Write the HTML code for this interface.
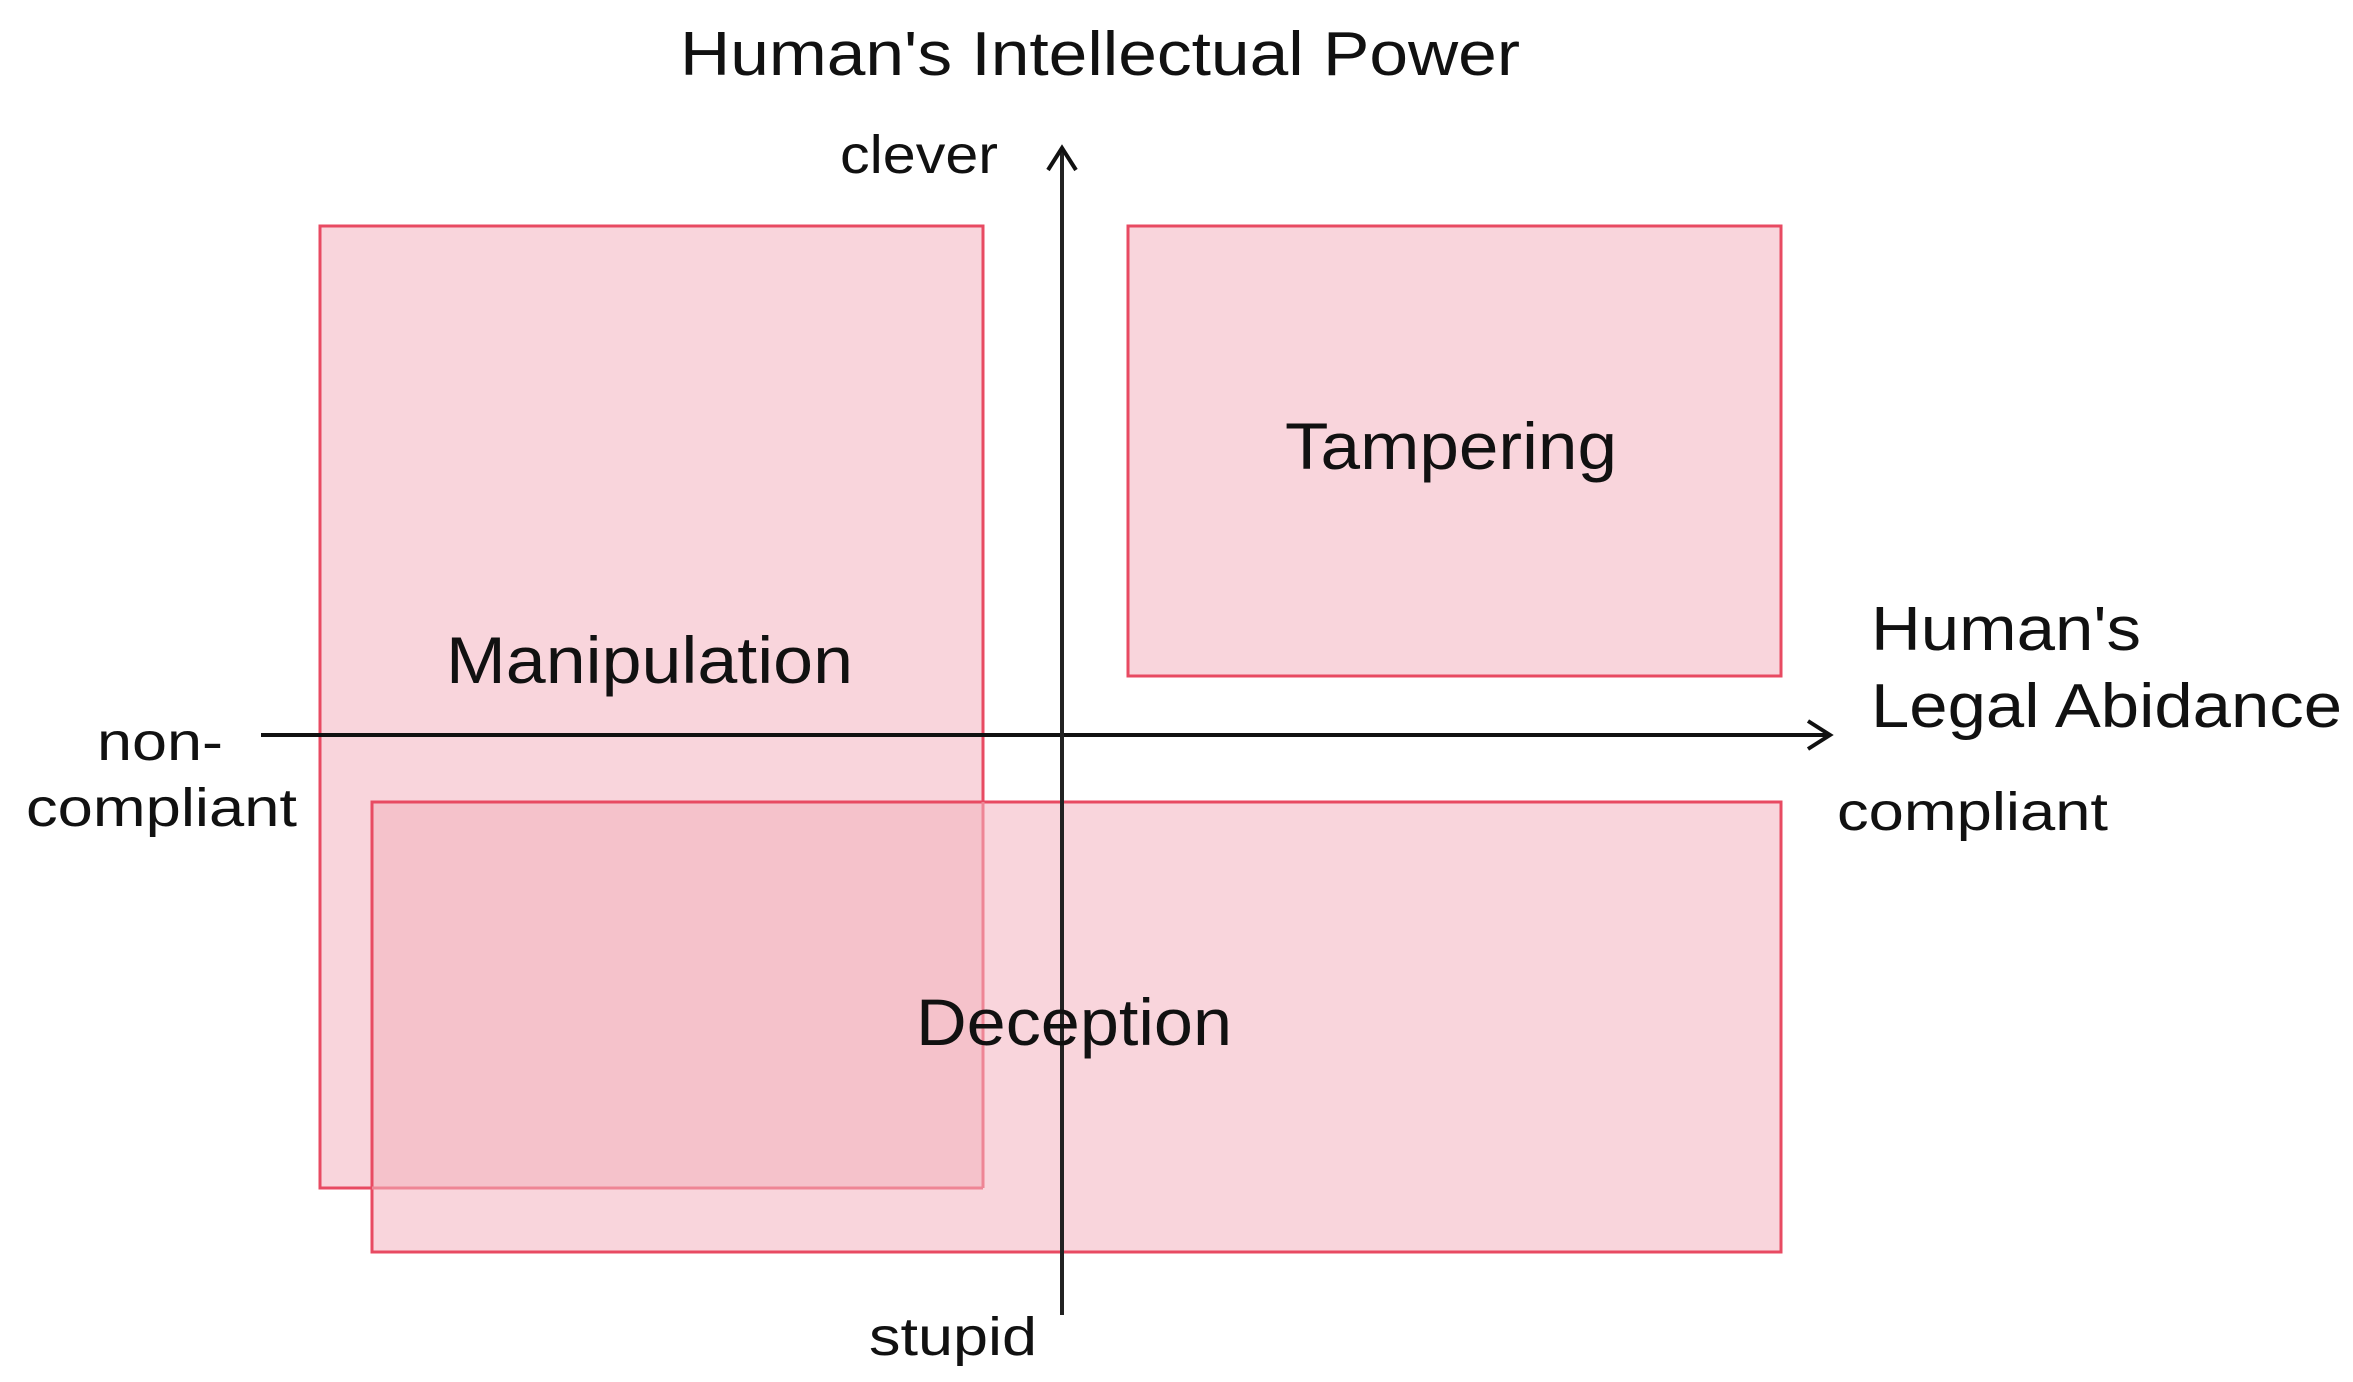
<!DOCTYPE html>
<html><head><meta charset="utf-8"><style>html,body{margin:0;padding:0;background:#fff}svg{display:block}</style></head>
<body>
<svg width="2353" height="1382" viewBox="0 0 2353 1382" xmlns="http://www.w3.org/2000/svg" font-family="Liberation Sans, DejaVu Sans, sans-serif" fill="#111">
<rect x="320" y="226" width="663" height="962" fill="#f9d5dc" stroke="#e84a62" stroke-width="3"/>
<rect x="1128" y="226" width="653" height="450" fill="#f9d5dc" stroke="#e84a62" stroke-width="3"/>
<rect x="372" y="802" width="1409" height="450" fill="#f9d5dc" stroke="#e84a62" stroke-width="3"/>
<rect x="373.5" y="803.5" width="608" height="383" fill="#f5c2cb"/>
<line x1="983" y1="802" x2="983" y2="1188" stroke="#ee8595" stroke-width="3"/>
<line x1="372" y1="1188" x2="983" y2="1188" stroke="#ee8595" stroke-width="3"/>
<line x1="261" y1="735" x2="1830" y2="735" stroke="#111" stroke-width="4"/>
<polyline points="1808,721 1830,735 1808,749" fill="none" stroke="#111" stroke-width="4"/>
<line x1="1062" y1="1315" x2="1062" y2="148" stroke="#222" stroke-width="4"/>
<polyline points="1048,170 1062,148 1076,170" fill="none" stroke="#111" stroke-width="4"/>
<text x="680" y="75" font-size="62" textLength="840" lengthAdjust="spacingAndGlyphs">Human's Intellectual Power</text>
<text x="840" y="173" font-size="54" textLength="158" lengthAdjust="spacingAndGlyphs">clever</text>
<text x="869" y="1355" font-size="54" textLength="168" lengthAdjust="spacingAndGlyphs">stupid</text>
<text x="97" y="760" font-size="54" textLength="126" lengthAdjust="spacingAndGlyphs">non-</text>
<text x="26" y="826" font-size="54" textLength="271" lengthAdjust="spacingAndGlyphs">compliant</text>
<text x="1837" y="830" font-size="54" textLength="271" lengthAdjust="spacingAndGlyphs">compliant</text>
<text x="1871" y="650" font-size="62" textLength="270" lengthAdjust="spacingAndGlyphs">Human's</text>
<text x="1871" y="727" font-size="62" textLength="471" lengthAdjust="spacingAndGlyphs">Legal Abidance</text>
<text x="446" y="683" font-size="66" textLength="407" lengthAdjust="spacingAndGlyphs">Manipulation</text>
<text x="1285" y="469" font-size="66" textLength="332" lengthAdjust="spacingAndGlyphs">Tampering</text>
<text x="916" y="1045" font-size="66" textLength="316" lengthAdjust="spacingAndGlyphs">Deception</text>
</svg>
</body></html>
